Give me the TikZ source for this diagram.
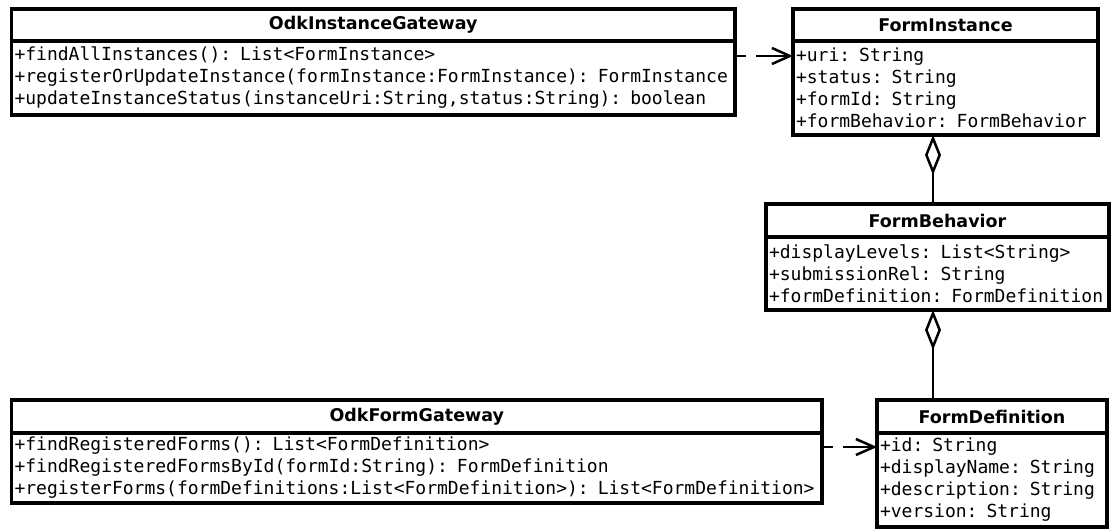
\documentclass[tikz,border=0pt]{standalone}
\usepackage{fontspec}
\usetikzlibrary{arrows.meta}
\newfontfamily\headfont{DejaVu Sans}
\newfontfamily\codefont{DejaVu Sans Mono}
\begin{document}
\begin{tikzpicture}[x=1pt,y=-1pt,
  box/.style={draw=black, line width=3.5pt, fill=white, anchor=north west,
    outer sep=0pt},
  head/.style={box, inner sep=0pt,
    font=\headfont\bfseries\fontsize{17.5}{20}\selectfont},
  body/.style={box, inner xsep=3pt, inner ysep=0pt, align=left,
    font=\codefont\fontsize{18}{22}\selectfont},
  dep/.style={line width=2.5pt, dash pattern=on 11pt off 10pt on 80pt,
    -{Straight Barb[length=18pt,width=16pt]}},
  agg/.style={line width=2.5pt, {Diamond[open,length=40pt,width=16pt]}-}]
  \fill[white] (0,0) rectangle (1112,529);
  \useasboundingbox (0,0) rectangle (1112,529);

  % gateway classes
  \node[head, minimum width=723.5pt, minimum height=32pt] (oigh) at (11.5,9) {OdkInstanceGateway};
  \node[body, text width=717.5pt, minimum height=74pt] (oigb) at (oigh.south west)
    {+findAllInstances(): List<FormInstance>\\
     +registerOrUpdateInstance(formInstance:FormInstance): FormInstance\\
     +updateInstanceStatus(instanceUri:String,status:String): boolean};

  \node[head, minimum width=810.5pt, minimum height=33pt] (ofgh) at (11.5,400) {OdkFormGateway};
  \node[body, text width=804.5pt, minimum height=70pt] (ofgb) at (ofgh.south west)
    {+findRegisteredForms(): List<FormDefinition>\\
     +findRegisteredFormsById(formId:String): FormDefinition\\
     +registerForms(formDefinitions:List<FormDefinition>): List<FormDefinition>};

  % model classes
  \node[head, minimum width=305pt, minimum height=32pt] (fih) at (793,9) {FormInstance};
  \node[body, text width=299pt, minimum height=94pt] (fib) at (fih.south west)
    {+uri: String\\
     +status: String\\
     +formId: String\\
     +formBehavior: FormBehavior};

  \node[head, minimum width=343pt, minimum height=33pt] (fbh) at (766,204) {FormBehavior};
  \node[body, text width=337pt, minimum height=73pt] (fbb) at (fbh.south west)
    {+displayLevels: List<String>\\
     +submissionRel: String\\
     +formDefinition: FormDefinition};

  \node[head, minimum width=230pt, minimum height=33pt] (fdh) at (877,400) {FormDefinition};
  \node[body, text width=224pt, minimum height=94pt] (fdb) at (fdh.south west)
    {+id: String\\
     +displayName: String\\
     +description: String\\
     +version: String};

  % dependencies
  \draw[dep] ([yshift=-15pt]oigb.north east) -- ([yshift=-15pt]fib.north west);
  \draw[dep] ([yshift=-14pt]ofgb.north east) -- ([yshift=-14pt]fdb.north west);

  % aggregations
  \draw[agg] ([xshift=140pt]fib.south west) -- ([xshift=167pt]fbh.north west);
  \draw[agg] ([xshift=167pt]fbb.south west) -- ([xshift=56pt]fdh.north west);
\end{tikzpicture}
\end{document}
